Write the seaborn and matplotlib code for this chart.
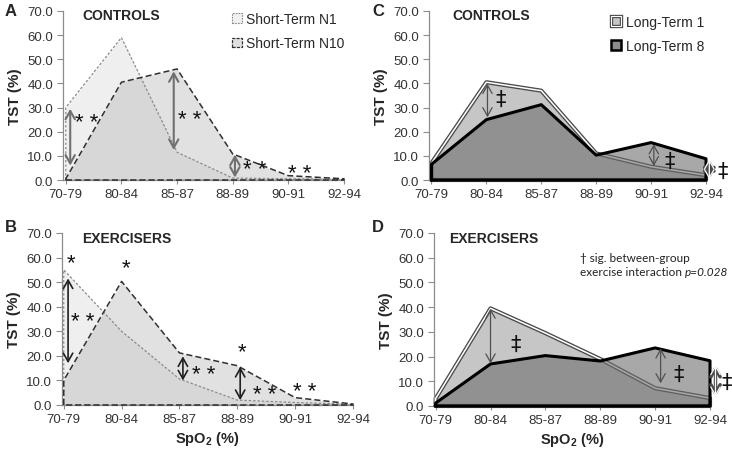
import matplotlib
matplotlib.use("Agg")
import matplotlib.pyplot as plt
from matplotlib.patches import Patch
from matplotlib.legend_handler import HandlerTuple
import numpy as np
import pandas as pd
import seaborn as sns

# ---------------------------------------------------------------------------
# data (TST % per SpO2 band)
# ---------------------------------------------------------------------------
categories = ["70-79", "80-84", "85-87", "88-89", "90-91", "92-94"]

ctrl_short_n1 = [30.0, 59.0, 11.5, 0.8, 0.5, 0.3]
ctrl_short_n10 = [0.5, 40.5, 46.0, 10.8, 1.8, 0.5]
ex_short_n1 = [55.0, 30.0, 10.6, 2.0, 1.0, 0.3]
ex_short_n10 = [10.0, 50.3, 21.2, 16.0, 3.0, 0.4]

ctrl_long_1 = [7.0, 40.5, 37.0, 11.0, 5.5, 2.0]
ctrl_long_8 = [6.5, 25.0, 31.2, 10.3, 15.5, 8.8]
ex_long_1 = [3.0, 39.5, 29.5, 19.0, 7.2, 3.2]
ex_long_8 = [1.2, 17.0, 20.4, 18.2, 23.5, 18.3]

yticks = [0, 10, 20, 30, 40, 50, 60, 70]

# significance marks: (x, y_top, y_bottom) arrows and (x, y, text) labels
arrows_a = [(0.08, 29.5, 6.0), (1.94, 45.0, 12.5), (3.04, 10.5, 1.0)]
marks_a = [(0.38, 24.0, "* *"), (2.22, 25.0, "* *"), (3.40, 4.4, "* *"), (4.20, 2.8, "* *")]
arrows_b = [(0.075, 51.5, 17.0), (2.06, 19.8, 10.0), (3.05, 15.5, 2.0)]
marks_b = [(0.12, 58.0, "*"), (1.07, 56.0, "*"), (0.33, 33.8, "* *"), (2.42, 12.6, "* *"),
           (3.09, 21.7, "*"), (3.47, 4.3, "* *"), (4.16, 5.4, "* *")]
arrows_c = [(1.02, 39.8, 26.0), (4.05, 14.8, 5.8), (5.06, 8.6, 0.3)]
marks_c = [(1.26, 33.6, "‡"), (4.34, 7.9, "‡"), (5.31, 3.7, "‡")]
arrows_d = [(1.00, 39.4, 17.2), (4.10, 23.3, 9.2), (5.10, 16.6, 3.8)]
marks_d = [(1.46, 25.3, "‡"), (4.43, 13.2, "‡"), (5.30, 9.8, "‡")]

sns.set_theme(style="ticks")
plt.rcParams["font.family"] = ["Liberation Sans", "DejaVu Sans"]
plt.rcParams["mathtext.fontset"] = "custom"
plt.rcParams["mathtext.rm"] = "Liberation Sans"
plt.rcParams["mathtext.bf"] = "Liberation Sans:bold"

W, H = 732, 452
fig = plt.figure(figsize=(W / 100, H / 100), dpi=100)
fig.patch.set_facecolor("white")


def px_axes(left, right, top, bottom):
    return fig.add_axes([left / W, 1 - bottom / H, (right - left) / W, (bottom - top) / H])


def closed(vals):
    # outline of an Excel-style area: baseline, left edge, curve, right edge
    x = [0] + list(range(len(vals))) + [len(vals) - 1, 0]
    y = [0] + list(vals) + [0, 0]
    return pd.DataFrame({"x": x, "y": y})


def style_axes(ax, x0, xlabel=False):
    ax.set_xlim(x0, 5)
    ax.set_ylim(0, 70)
    ax.set_yticks(yticks)
    ax.set_yticklabels([f"{v:.1f}" for v in yticks])
    ax.set_xticks(range(len(categories)))
    ax.set_xticklabels(categories)
    sns.despine(ax=ax)
    for s in ("left", "bottom"):
        ax.spines[s].set_color("#8c8c8c")
        ax.spines[s].set_linewidth(0.9)
    ax.tick_params(axis="y", length=4, width=0.8, color="#8c8c8c", pad=3,
                   labelsize=9.5, labelcolor="#333333")
    ax.tick_params(axis="x", length=3, width=0.8, color="#8c8c8c", pad=3,
                   labelsize=9.5, labelcolor="#333333")
    ax.set_ylabel("TST (%)", fontsize=11, fontweight="bold", labelpad=4)
    ax.set_xlabel(r"SpO$_\mathbf{2}$ (%)" if xlabel else "", fontsize=10.5,
                  fontweight="bold", labelpad=3)
    ax.set_facecolor("none")
    ax.grid(False)


def draw_short(ax, n1, n10):
    x = np.arange(len(categories))
    ax.fill_between(x, n1, color="#efefef", lw=0, zorder=1)
    ax.fill_between(x, n10, color="#b4b4b4", alpha=0.4, lw=0, zorder=2)
    sns.lineplot(data=closed(n1), x="x", y="y", sort=False, estimator=None, ax=ax,
                 color="#8a8a8a", lw=0.9, linestyle=(0, (2, 1.5)), zorder=3, clip_on=False)
    sns.lineplot(data=closed(n10), x="x", y="y", sort=False, estimator=None, ax=ax,
                 color="#303030", lw=1.1, linestyle=(0, (4, 2)), zorder=4, clip_on=False)


def draw_long(ax, lt1, lt8):
    x = np.arange(len(categories))
    ax.fill_between(x, lt1, color="#c6c6c6", lw=0, zorder=1)
    sns.lineplot(data=closed(lt1), x="x", y="y", sort=False, estimator=None, ax=ax,
                 color="#4a4a4a", lw=3.0, zorder=2, clip_on=False)
    sns.lineplot(data=closed(lt1), x="x", y="y", sort=False, estimator=None, ax=ax,
                 color="white", lw=1.1, zorder=3, clip_on=False)
    ax.fill_between(x, lt8, color="#6e6e6e", alpha=0.6, lw=0, zorder=4)
    sns.lineplot(data=closed(lt8), x="x", y="y", sort=False, estimator=None, ax=ax,
                 color="black", lw=2.2, zorder=5, clip_on=False)


def double_arrow(ax, x, y1, y2, color, lw, double=False):
    style = "<->,head_length=0.5,head_width=0.28"
    if double:
        ax.annotate("", xy=(x, y2), xytext=(x, y1), annotation_clip=False, zorder=6,
                    arrowprops=dict(arrowstyle=style, color="#4a4a4a", lw=lw + 1.6,
                                    shrinkA=0, shrinkB=0))
        color = "white"
    ax.annotate("", xy=(x, y2), xytext=(x, y1), annotation_clip=False, zorder=7,
                arrowprops=dict(arrowstyle=style, color=color, lw=lw, shrinkA=0, shrinkB=0))


def marks(ax, items, size, font):
    for x, y, s in items:
        ax.text(x, y, s, ha="center", va="center", fontsize=size, family=font,
                color="#111111", zorder=8, clip_on=False)


ax_a = px_axes(63, 344, 12, 181)
ax_b = px_axes(62, 353, 234, 406)
ax_c = px_axes(429, 706, 12, 181)
ax_d = px_axes(434, 710, 234, 407)

draw_short(ax_a, ctrl_short_n1, ctrl_short_n10)
draw_short(ax_b, ex_short_n1, ex_short_n10)
draw_long(ax_c, ctrl_long_1, ctrl_long_8)
draw_long(ax_d, ex_long_1, ex_long_8)

style_axes(ax_a, -0.05)
style_axes(ax_b, -0.03, xlabel=True)
style_axes(ax_c, -0.045)
style_axes(ax_d, -0.03, xlabel=True)

for x, y1, y2 in arrows_a:
    double_arrow(ax_a, x, y1, y2, "#707070", 1.5)
for x, y1, y2 in arrows_b:
    double_arrow(ax_b, x, y1, y2, "#202020", 1.2)
for x, y1, y2 in arrows_c:
    double_arrow(ax_c, x, y1, y2, "#505050", 0.9, double=(x > 5))
for x, y1, y2 in arrows_d:
    double_arrow(ax_d, x, y1, y2, "#505050", 0.9, double=(x > 5))

marks(ax_a, marks_a, 16, "Liberation Sans")
marks(ax_b, marks_b, 16, "Liberation Sans")
marks(ax_c, marks_c, 15, "DejaVu Sans")
marks(ax_d, marks_d, 15, "DejaVu Sans")

# group titles
fig.text(82 / W, 1 - 16 / H, "CONTROLS", fontsize=10, fontweight="bold", va="center")
fig.text(82 / W, 1 - 239 / H, "EXERCISERS", fontsize=10, fontweight="bold", va="center")
fig.text(452 / W, 1 - 16 / H, "CONTROLS", fontsize=10, fontweight="bold", va="center")
fig.text(449 / W, 1 - 239 / H, "EXERCISERS", fontsize=10, fontweight="bold", va="center")

# panel letters
for lx, ly, letter in [(5, 4, "A"), (5, 220, "B"), (372, 4, "C"), (372, 220, "D")]:
    fig.text(lx / W, 1 - ly / H, letter, fontsize=12, fontweight="bold", va="top")

# legends
short_handles = [
    Patch(facecolor="#f0f0f0", edgecolor="#8a8a8a", linestyle=(0, (1.5, 1)), lw=0.8),
    Patch(facecolor="#e0e0e0", edgecolor="#303030", linestyle=(0, (2.5, 1)), lw=0.9),
]
fig.legend(short_handles, ["Short-Term N1", "Short-Term N10"], loc="upper left",
           bbox_to_anchor=(232 / W, 1 - 13 / H), frameon=False, fontsize=10,
           handlelength=0.7, handleheight=0.7, handletextpad=0.3, labelspacing=0.75,
           borderpad=0, borderaxespad=0)

long_handles = [
    (Patch(facecolor="#c6c6c6", edgecolor="#4a4a4a", lw=2.4),
     Patch(facecolor="none", edgecolor="white", lw=0.8)),
    Patch(facecolor="#8c8c8c", edgecolor="black", lw=1.8),
]
fig.legend(long_handles, ["Long-Term 1", "Long-Term 8"], loc="upper left",
           bbox_to_anchor=(611 / W, 1 - 16 / H), frameon=False, fontsize=10,
           handlelength=0.7, handleheight=0.7, handletextpad=0.35, labelspacing=0.7,
           borderpad=0, borderaxespad=0,
           handler_map={tuple: HandlerTuple(ndivide=1, pad=0)})

# footnote in panel D
note_font = ["Lato", "DejaVu Sans"]
fig.text(580 / W, 1 - 259 / H, "† sig. between-group", family=note_font,
         fontsize=8.5, va="center", color="#222222")
t2 = fig.text(580 / W, 1 - 273 / H, "exercise interaction", family=note_font,
              fontsize=8.5, va="center", color="#222222")
fig.canvas.draw()
bb = t2.get_window_extent()
fig.text(bb.x1 / W + 3 / W, 1 - 273 / H, "p=0.028", family=note_font,
         fontsize=8.5, style="italic", va="center", color="#222222")

fig.savefig("out.png", dpi=100)
